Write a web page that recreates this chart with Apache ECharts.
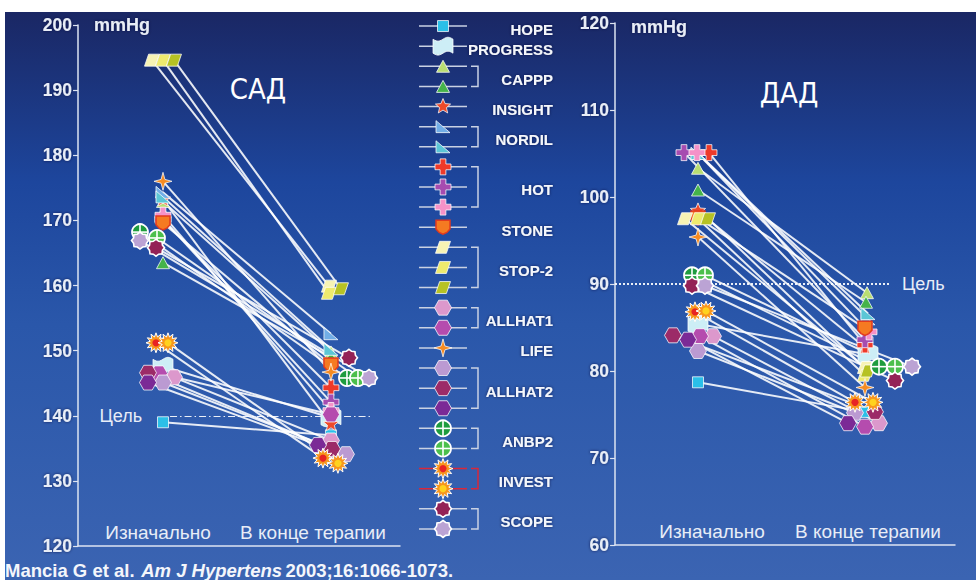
<!DOCTYPE html>
<html>
<head>
<meta charset="utf-8">
<script src="https://cdn.jsdelivr.net/npm/echarts@6/dist/echarts.min.js"></script>
<style>
  html, body { margin: 0; padding: 0; background: #ffffff; }
  #chart { width: 976px; height: 580px; }
</style>
</head>
<body>
<div id="chart"></div>
<script>
// ---- Data -------------------------------------------------------------
// Trial arms, in legend order (consecutive equal names form one trial)
const arms = ['HOPE', 'PROGRESS', 'CAPPP', 'CAPPP', 'INSIGHT', 'NORDIL', 'NORDIL',
  'HOT', 'HOT', 'HOT', 'STONE', 'STOP-2', 'STOP-2', 'STOP-2', 'ALLHAT1', 'ALLHAT1',
  'LIFE', 'ALLHAT2', 'ALLHAT2', 'ALLHAT2', 'ANBP2', 'ANBP2', 'INVEST', 'INVEST',
  'SCOPE', 'SCOPE'];
const stages = ['Изначально', 'В конце терапии'];

// Systolic BP (mmHg)
const sbpBaseline = [139.0, 147.6, 172.9, 163.5, 173.2, 174.3, 173.6, 170.0, 170.2, 170.8,
  169.6, 194.6, 194.6, 194.6, 145.9, 146.5, 176.0, 145.1, 146.6, 145.1, 168.2, 167.3,
  151.2, 151.2, 165.8, 166.9];
const sbpFinal = [137.0, 139.7, 149.8, 149.0, 138.7, 152.6, 150.2, 144.3, 142.1, 140.8,
  147.8, 159.9, 158.8, 159.5, 136.2, 140.2, 146.7, 134.1, 134.9, 135.5, 145.8, 145.8,
  133.5, 132.7, 148.9, 145.8];

// Diastolic BP (mmHg)
const dbpBaseline = [78.7, 85.4, 103.3, 100.8, 98.4, 105.0, 105.0, 105.1, 105.1, 105.1,
  97.6, 97.5, 97.5, 97.5, 84.0, 84.0, 95.4, 82.3, 84.1, 83.6, 91.0, 91.0, 86.8, 86.9,
  89.8, 89.8];
const dbpFinal = [75.3, 81.9, 89.0, 87.9, 82.7, 86.0, 86.6, 83.0, 83.6, 84.5, 84.9, 80.4,
  79.5, 80.0, 74.0, 73.6, 78.1, 75.2, 75.3, 74.0, 80.5, 80.5, 76.4, 76.4, 78.9, 80.5];

// Axis ranges and treatment goals
const sbpAxis = { min: 120, max: 200, step: 10 };
const dbpAxis = { min: 60, max: 120, step: 10 };
const sbpGoal = 140;
const dbpGoal = 90;
const goalLabel = 'Цель';
const unitLabel = 'mmHg';
const panelTitles = ['САД', 'ДАД'];
const citation = { authors: 'Mancia G et al.', journal: 'Am J Hypertens', ref: '2003;16:1066-1073.' };

// ---- Layout: horizontal nudges (px) so overlapping markers stay visible ----
const sbpStartDx = [0, 0, 0, 0, 0, 0, 0, 0, 0, 0, 0, -11, 0, 11, 11, -4, 0, 0, -15, -15, -23, -6, -7, 5, -7, -23];
const sbpEndDx   = [0, 0, 0, 0, 0, 0, 0, 0, 0, 0, 0, -2, -2, 10, 0, 0, 0, 15, 1, -13, 16, 27, -8, 7, 18, 38];
const dbpStartDx = [0, 0, 0, 0, 0, 0, 0, 11, -14, -1, 0, -13, 0, 10, 15, 2, 0, 0, -25, -10, -6, 7, -3, 8, -6, 7];
const dbpEndDx   = [0, 3, 2, 1, 0, 3, 3, 0, 0, 4, 0, 0, 0, 3, 14, 0, 0, -10, 10, -17, 14, 30, -10, 8, 30, 47];

// ---- Marker styles (one per arm) ----------------------------------------
const markerStyles = [
  { shape: 'square', fill: '#2bbfe8', r: [5.5, 5.5] },
  { shape: 'flag', fill: '#cdeef6', r: [10, 7] },
  { shape: 'triangle', fill: '#b9dd72', r: [6.5, 6] },
  { shape: 'triangle', fill: '#45b34a', r: [6.5, 6] },
  { shape: 'star5', fill: '#ee4a2a', r: [8, 8] },
  { shape: 'rtri', fill: '#72aee6', r: [7, 6] },
  { shape: 'rtri', fill: '#5cc6d6', r: [7, 6] },
  { shape: 'cross', fill: '#ee3a2a', r: [8, 8] },
  { shape: 'cross', fill: '#a64cb0', r: [8, 8] },
  { shape: 'cross', fill: '#f592c8', r: [8, 8] },
  { shape: 'shield', fill: '#f57a22', stroke: '#e23a1f', r: [7, 7] },
  { shape: 'para', fill: '#f7f3b4', r: [7.5, 6] },
  { shape: 'para', fill: '#eeea6e', r: [7.5, 6] },
  { shape: 'para', fill: '#b6c224', r: [7.5, 6] },
  { shape: 'hex', fill: '#dc98cc', r: [8.5, 7.5] },
  { shape: 'hex', fill: '#b54cae', r: [8.5, 7.5] },
  { shape: 'star4', fill: '#f68b22', r: [9, 9] },
  { shape: 'hex', fill: '#bb9ad2', r: [8.5, 7.5] },
  { shape: 'hex', fill: '#9c2b68', r: [8.5, 7.5] },
  { shape: 'hex', fill: '#7b2a96', r: [8.5, 7.5] },
  { shape: 'target', fill: '#1e9c3e', r: [8, 8] },
  { shape: 'target', fill: '#4cbf4c', r: [8, 8] },
  { shape: 'burst', fill: '#f7961e', dot: '#e82424', r: [10, 10], legendLine: '#d8283a' },
  { shape: 'burst', fill: '#f7961e', dot: '#ffd21e', r: [10, 10], legendLine: '#d8283a' },
  { shape: 'scope', fill: '#942256', r: [8.5, 8.5] },
  { shape: 'scope', fill: '#bba3d4', r: [8.5, 8.5] }
];

const AXIS_COLOR = '#dde4f2';
const TEXT_COLOR = '#e8edf7';
const BASE_FONT = '"Liberation Sans", Arial, sans-serif';

function starPoints(n, inner) {
  const pts = [];
  for (let k = 0; k < n * 2; k++) {
    const a = -Math.PI / 2 + k * Math.PI / n;
    const rr = k % 2 === 0 ? 1 : inner;
    pts.push([Math.cos(a) * rr, Math.sin(a) * rr]);
  }
  return pts;
}
function flagPoints() {
  const top = [], bottom = [];
  for (let k = 0; k <= 12; k++) {
    const x = -1 + k / 6;
    const w = 0.28 * Math.sin(Math.PI * (x + 1));
    top.push([x, -1 + w]);
    bottom.unshift([x, 1 + w]);
  }
  return top.concat(bottom);
}
const outlines = {
  square: [[-1, -1], [1, -1], [1, 1], [-1, 1]],
  triangle: [[0, -1], [1, 1], [-1, 1]],
  rtri: [[-1, -1], [1, 1], [-1, 1]],
  cross: [[-0.36, -1], [0.36, -1], [0.36, -0.36], [1, -0.36], [1, 0.36], [0.36, 0.36],
          [0.36, 1], [-0.36, 1], [-0.36, 0.36], [-1, 0.36], [-1, -0.36], [-0.36, -0.36]],
  shield: [[-1, -1], [1, -1], [1, 0.25], [0.55, 0.75], [0, 1], [-0.55, 0.75], [-1, 0.25]],
  para: [[-0.45, -1], [1, -1], [0.45, 1], [-1, 1]],
  hex: [[-0.5, -1], [0.5, -1], [1, 0], [0.5, 1], [-0.5, 1], [-1, 0]],
  star5: starPoints(5, 0.45),
  star4: starPoints(4, 0.3),
  burst: starPoints(12, 0.6),
  scope: starPoints(8, 0.82),
  flag: flagPoints()
};

// Builds the graphic elements of one marker centred at (cx, cy)
function markerElements(st, cx, cy) {
  const [rx, ry] = st.r;
  const halo = 'rgba(255,255,255,0.75)';
  const place = pts => pts.map(p => [cx + p[0] * rx, cy + p[1] * ry]);
  if (st.shape === 'target') {
    return [
      { type: 'circle', shape: { cx, cy, r: rx }, style: { fill: st.fill, stroke: '#ffffff', lineWidth: 1.8 } },
      { type: 'line', shape: { x1: cx - rx, y1: cy, x2: cx + rx, y2: cy }, style: { stroke: '#ffffff', lineWidth: 1.6 } },
      { type: 'line', shape: { x1: cx, y1: cy - ry, x2: cx, y2: cy + ry }, style: { stroke: '#ffffff', lineWidth: 1.6 } }
    ];
  }
  const els = [{
    type: 'polygon',
    shape: { points: place(outlines[st.shape]) },
    style: {
      fill: st.fill,
      stroke: st.stroke || (st.shape === 'scope' || st.shape === 'burst' ? '#ffffff' : halo),
      lineWidth: st.stroke ? 1.5 : (st.shape === 'scope' ? 1.6 : 1)
    }
  }];
  if (st.dot) {
    els.push({ type: 'circle', shape: { cx, cy, r: rx * 0.36 }, style: { fill: st.dot } });
  }
  return els;
}

// Connecting lines baseline -> end of therapy, one per arm
function linkSeries(gridIdx, start, end, dxStart, dxEnd) {
  return {
    type: 'custom',
    name: 'links' + gridIdx,
    xAxisIndex: gridIdx, yAxisIndex: gridIdx,
    z: 3, silent: true,
    encode: { x: [0, 2], y: [1, 3] },
    data: arms.map((_, i) => [0, start[i], 1, end[i], i]),
    renderItem(params, api) {
      const i = api.value(4);
      const p0 = api.coord([api.value(0), api.value(1)]);
      const p1 = api.coord([api.value(2), api.value(3)]);
      return {
        type: 'line',
        shape: { x1: p0[0] + dxStart[i], y1: p0[1], x2: p1[0] + dxEnd[i], y2: p1[1] },
        style: { stroke: 'rgba(255,255,255,0.88)', lineWidth: 2 }
      };
    }
  };
}

// Baseline and end-of-therapy markers
function markerSeries(gridIdx, start, end, dxStart, dxEnd) {
  const data = [];
  arms.forEach((_, i) => {
    data.push([0, start[i], i]);
    data.push([1, end[i], i]);
  });
  return {
    type: 'custom',
    name: 'markers' + gridIdx,
    xAxisIndex: gridIdx, yAxisIndex: gridIdx,
    z: 5, silent: true,
    encode: { x: 0, y: 1 },
    data,
    renderItem(params, api) {
      const s = api.value(0), i = api.value(2);
      const p = api.coord([s, api.value(1)]);
      const dx = (s === 0 ? dxStart : dxEnd)[i];
      return { type: 'group', children: markerElements(markerStyles[i], p[0] + dx, p[1]) };
    }
  };
}

// Dashed goal line with its label
function goalSeries(gridIdx, goal, from, to, lineType, labelPos, dist) {
  return {
    type: 'line',
    name: goalLabel,
    xAxisIndex: gridIdx, yAxisIndex: gridIdx,
    data: [],
    z: 4,
    markLine: {
      silent: true,
      symbol: 'none',
      lineStyle: { color: 'rgba(255,255,255,0.9)', type: lineType, width: gridIdx === 0 ? 1.2 : 2 },
      label: {
        show: true,
        position: labelPos,
        distance: dist,
        formatter: goalLabel,
        color: TEXT_COLOR,
        fontFamily: BASE_FONT,
        fontSize: 18,
        padding: gridIdx === 0 ? [14, 0, 0, 0] : [8, 0, 0, 0]
      },
      data: [[{ xAxis: from, yAxis: goal }, { xAxis: to, yAxis: goal }]]
    }
  };
}

// Stage label (x axis)
function stageAxis(gridIdx, min, max, shifts) {
  return {
    type: 'value', gridIndex: gridIdx, min, max,
    axisLine: { show: true, onZero: false, lineStyle: { color: AXIS_COLOR, width: 1.5 } },
    axisTick: { show: false },
    splitLine: { show: false },
    minorSplitLine: { show: false },
    axisLabel: {
      show: true,
      inside: true,
      margin: 4,
      customValues: [0, 1],
      formatter: v => '{s' + v + '|' + stages[v] + '}',
      rich: {
        s0: { color: TEXT_COLOR, fontSize: 19, fontFamily: BASE_FONT, padding: shifts[0] },
        s1: { color: TEXT_COLOR, fontSize: 19, fontFamily: BASE_FONT, padding: shifts[1] }
      }
    }
  };
}

function valueAxis(gridIdx, range, nameGap) {
  return {
    type: 'value', gridIndex: gridIdx,
    min: range.min, max: range.max, interval: range.step,
    name: unitLabel,
    nameLocation: 'end',
    nameGap,
    nameTextStyle: {
      align: 'left', verticalAlign: 'middle', padding: [0, 0, 0, 16],
      color: TEXT_COLOR, fontSize: 18, fontWeight: 'bold', fontFamily: BASE_FONT,
      textShadowColor: 'rgba(5,15,50,0.7)', textShadowBlur: 3
    },
    axisLine: { show: true, onZero: false, lineStyle: { color: AXIS_COLOR, width: 1.5 } },
    axisTick: { show: true, length: 5, lineStyle: { color: AXIS_COLOR, width: 1.2 } },
    splitLine: { show: false },
    axisLabel: {
      margin: 6, color: TEXT_COLOR, fontSize: 17.5, fontWeight: 'bold', fontFamily: BASE_FONT,
      textShadowColor: 'rgba(5,15,50,0.7)', textShadowBlur: 3
    }
  };
}

// Legend: one row per arm, trials grouped with a bracket
const groups = [];
arms.forEach((name, i) => {
  const g = groups[groups.length - 1];
  if (g && g.name === name) g.last = i;
  else groups.push({ name, first: i, last: i });
});

const legendRows = {
  type: 'custom',
  name: 'legendRows',
  xAxisIndex: 2, yAxisIndex: 2,
  z: 5, silent: true,
  encode: { x: 0, y: 1 },
  data: arms.map((_, i) => [0.5, i]),
  renderItem(params, api) {
    const i = api.value(1);
    const cs = params.coordSys;
    const p = api.coord([0.5, i]);
    const st = markerStyles[i];
    return {
      type: 'group',
      children: [
        { type: 'line', shape: { x1: cs.x, y1: p[1], x2: cs.x + cs.width, y2: p[1] },
          style: { stroke: st.legendLine || '#c9d1e3', lineWidth: 1.5 } }
      ].concat(markerElements(st, p[0], p[1]))
    };
  }
};

const legendLabels = {
  type: 'custom',
  name: 'legendLabels',
  xAxisIndex: 2, yAxisIndex: 2,
  z: 5, silent: true,
  encode: { x: 0, y: [1, 2] },
  data: groups.map(g => [0.5, g.first, g.last]),
  renderItem(params, api) {
    const g = groups[params.dataIndex];
    const cs = params.coordSys;
    const y0 = api.coord([0.5, api.value(1)])[1];
    const y1 = api.coord([0.5, api.value(2)])[1];
    const bx = cs.x + cs.width + 11;
    const color = markerStyles[g.first].legendLine || '#c9d1e3';
    const children = [];
    if (g.last > g.first) {
      children.push({
        type: 'polyline',
        shape: { points: [[bx - 7, y0], [bx, y0], [bx, y1], [bx - 7, y1]] },
        style: { stroke: color, lineWidth: 1.5, fill: null }
      });
    }
    children.push({
      type: 'text',
      style: {
        text: g.name, x: cs.x + cs.width + 86, y: (y0 + y1) / 2 + 3,
        align: 'right', verticalAlign: 'middle',
        font: 'bold 15px ' + BASE_FONT, fill: '#f4f6fb',
        textShadowColor: 'rgba(5,15,50,0.7)', textShadowBlur: 3
      }
    });
    return { type: 'group', children };
  }
};

const chart = echarts.init(document.getElementById('chart'), null, { renderer: 'svg' });

chart.setOption({
  animation: false,
  backgroundColor: '#ffffff',
  title: [
    { text: panelTitles[0], left: 253, top: 69, textAlign: 'center',
      textStyle: { color: '#ffffff', fontSize: 29, fontWeight: 'normal',
        fontFamily: '"Liberation Sans Narrow", "DejaVu Sans Condensed", sans-serif' } },
    { text: panelTitles[1], left: 784, top: 73, textAlign: 'center',
      textStyle: { color: '#ffffff', fontSize: 29, fontWeight: 'normal',
        fontFamily: '"Liberation Sans Narrow", "DejaVu Sans Condensed", sans-serif' } }
  ],
  graphic: [
    {
      type: 'rect', z: -10, silent: true,
      shape: { x: 5, y: 12, width: 971, height: 568 },
      style: {
        fill: new echarts.graphic.LinearGradient(0, 0, 0, 1, [
          { offset: 0, color: '#1a2764' },
          { offset: 0.3, color: '#1d469d' },
          { offset: 0.55, color: '#2a57aa' },
          { offset: 1, color: '#3b64b2' }
        ])
      }
    },
    {
      type: 'text', left: 5, top: 561, silent: true,
      style: {
        text: '{n|' + citation.authors + '}  {i|' + citation.journal + '} {n|' + citation.ref + '}',
        rich: {
          n: { fill: '#f4f6fb', font: 'bold 18.5px ' + BASE_FONT },
          i: { fill: '#f4f6fb', font: 'italic bold 18.5px ' + BASE_FONT }
        }
      }
    }
  ],
  grid: [
    { left: 78, top: 25, width: 322, height: 521, containLabel: false, outerBoundsMode: 'none' },
    { left: 615, top: 23, width: 340, height: 522, containLabel: false, outerBoundsMode: 'none' },
    { left: 419, top: 16, width: 48, height: 523, containLabel: false, outerBoundsMode: 'none' }
  ],
  xAxis: [
    stageAxis(0, -0.506, 1.411, [[0, 10, 0, 0], [0, 36, 0, 0]]),
    stageAxis(1, -0.497, 1.539, [[0, 0, 0, 28], [0, 0, 0, 6]]),
    { type: 'value', gridIndex: 2, min: 0, max: 1, show: false }
  ],
  yAxis: [
    valueAxis(0, sbpAxis, 0),
    valueAxis(1, dbpAxis, -4),
    { type: 'value', gridIndex: 2, min: -0.5, max: arms.length - 0.5, inverse: true, show: false }
  ],
  series: [
    goalSeries(0, sbpGoal, 0.042, 1.232, [7, 3, 1.5, 3], 'start', 28),
    goalSeries(1, dbpGoal, -0.497, 1.15, [2, 2], 'end', 12),
    linkSeries(0, sbpBaseline, sbpFinal, sbpStartDx, sbpEndDx),
    linkSeries(1, dbpBaseline, dbpFinal, dbpStartDx, dbpEndDx),
    markerSeries(0, sbpBaseline, sbpFinal, sbpStartDx, sbpEndDx),
    markerSeries(1, dbpBaseline, dbpFinal, dbpStartDx, dbpEndDx),
    legendRows,
    legendLabels
  ]
});
</script>
</body>
</html>
